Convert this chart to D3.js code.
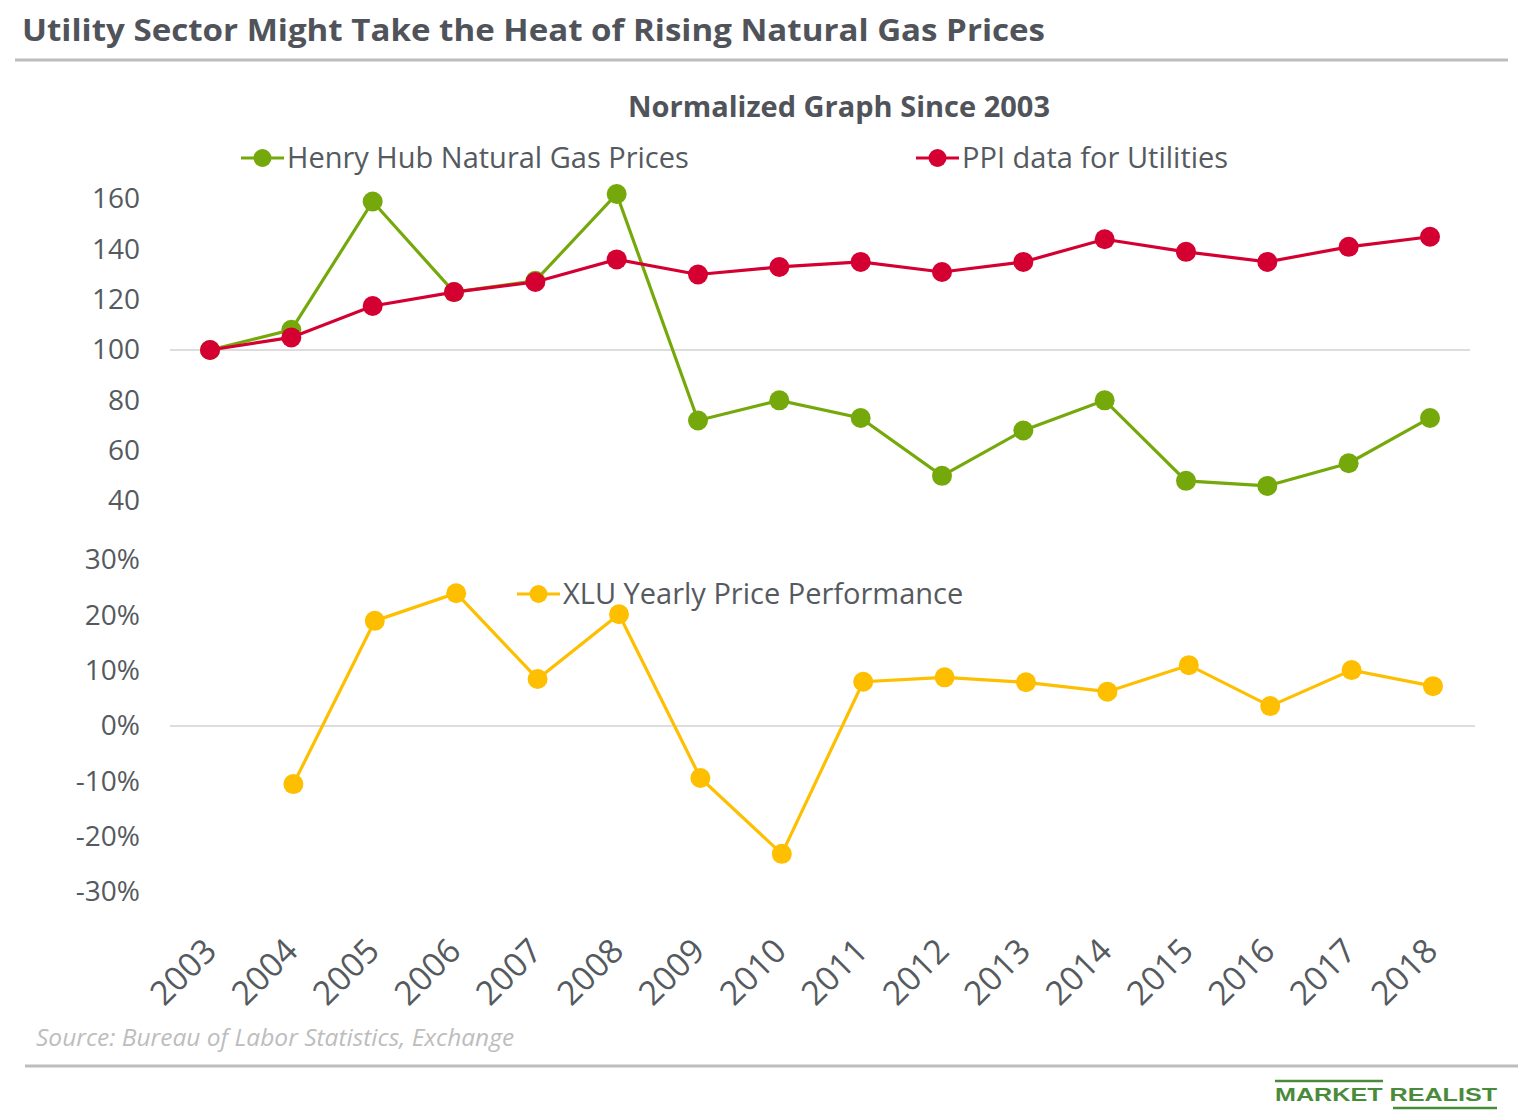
<!DOCTYPE html>
<html><head><meta charset="utf-8">
<script src="https://cdn.jsdelivr.net/npm/d3@7"></script>
<style>body{margin:0;background:#fff}svg{display:block;font-family:"Open Sans",sans-serif}</style>
</head><body><svg id="c" width="1518" height="1111"></svg>
<script>
const years = ["2003","2004","2005","2006","2007","2008","2009","2010","2011","2012","2013","2014","2015","2016","2017","2018"];
const henryHub = [100,108,159,123,127.5,162,72,80,73,50,68,80,48,46,55,73];
const ppiUtilities = [100,105,117.5,123,127,136,130,133,135,131,135,144,139,135,141,145];
const xluPerf = [null,-0.105,0.19,0.24,0.085,0.202,-0.094,-0.231,0.08,0.088,0.079,0.062,0.11,0.036,0.101,0.072];
const topTicks = [40,60,80,100,120,140,160];
const bottomTicks = [-0.3,-0.2,-0.1,0,0.1,0.2,0.3];

const svg = d3.select("#c");
const txt = "#555a60";
const green = "#75a90b", red = "#d50032", yellow = "#fdbf00";

// Title
svg.append("text").attr("x",22).attr("y",41).attr("font-size",30).attr("font-weight",700)
  .attr("fill","#50545a").attr("textLength",1023).attr("lengthAdjust","spacingAndGlyphs")
  .text("Utility Sector Might Take the Heat of Rising Natural Gas Prices");
svg.append("line").attr("x1",15).attr("x2",1508).attr("y1",60).attr("y2",60).attr("stroke","#bdbdbd").attr("stroke-width",3);

svg.append("text").attr("x",839).attr("y",117).attr("text-anchor","middle").attr("font-size",29).attr("font-weight",700)
  .attr("fill","#50545a").text("Normalized Graph Since 2003");

// Scales
const xTop = d3.scalePoint().domain(years).range([210,1430]);
const xBot = d3.scalePoint().domain(years).range([212,1433]);
const yTop = d3.scaleLinear().domain([40,160]).range([501,199]);
const yBot = d3.scaleLinear().domain([-0.3,0.3]).range([892,560]);

// Axes (labels only)
const axL1 = d3.axisLeft(yTop).tickValues(topTicks).tickSize(0).tickPadding(0);
const g1 = svg.append("g").attr("transform","translate(140,0)").call(axL1);
const axL2 = d3.axisLeft(yBot).tickValues(bottomTicks).tickSize(0).tickPadding(0);
const g2 = svg.append("g").attr("transform","translate(140,0)").call(axL2);
[g1,g2].forEach(g=>{g.attr("font-size",28).attr("font-family","Open Sans");g.select(".domain").remove();g.selectAll("text").attr("fill",txt);});
g2.selectAll("text").text(d=>Math.round(d*100)+"%");

// gridlines
svg.append("line").attr("x1",170).attr("x2",1470).attr("y1",yTop(100)).attr("y2",yTop(100)).attr("stroke","#bbb").attr("stroke-width",1.2);
svg.append("line").attr("x1",170).attr("x2",1475).attr("y1",yBot(0)).attr("y2",yBot(0)).attr("stroke","#bbb").attr("stroke-width",1.2);

// x axis
const axB = d3.axisBottom(xBot).tickSize(0).tickPadding(0);
const gx = svg.append("g").attr("transform","translate(0,930)").call(axB);
gx.attr("font-size",33.5).attr("font-family","Open Sans");
gx.select(".domain").remove();
gx.selectAll("text").attr("fill",txt).attr("y",0).attr("dy",0)
  .attr("text-anchor","end").attr("transform","translate(6,23) rotate(-45)");

function series(xs, ys, data, color){
  const pts = data.map((v,i)=>({y:years[i],v})).filter(d=>d.v!==null);
  svg.append("path").datum(pts).attr("fill","none").attr("stroke",color).attr("stroke-width",3.2)
    .attr("d",d3.line().x(d=>xs(d.y)).y(d=>ys(d.v)));
  svg.append("g").selectAll("circle").data(pts).join("circle")
    .attr("cx",d=>xs(d.y)).attr("cy",d=>ys(d.v)).attr("r",10).attr("fill",color);
}
series(xTop,yTop,henryHub,green);
series(xTop,yTop,ppiUtilities,red);
series(xBot,yBot,xluPerf,yellow);

// legends
function legend(x,y,color,label){
  svg.append("line").attr("x1",x).attr("x2",x+43).attr("y1",y).attr("y2",y).attr("stroke",color).attr("stroke-width",3.2);
  svg.append("circle").attr("cx",x+21.5).attr("cy",y).attr("r",9).attr("fill",color);
  svg.append("text").attr("x",x+46).attr("y",y+10).attr("font-size",29).attr("fill",txt).text(label);
}
legend(241,158,green,"Henry Hub Natural Gas Prices");
legend(916,158,red,"PPI data for Utilities");
legend(517,594,yellow,"XLU Yearly Price Performance");

// source
svg.append("text").attr("x",36).attr("y",1046).attr("font-size",24.5).attr("font-style","italic").attr("fill","#bdbdbd")
  .text("Source: Bureau of Labor Statistics, Exchange");
svg.append("line").attr("x1",25).attr("x2",1518).attr("y1",1066).attr("y2",1066).attr("stroke","#bdbdbd").attr("stroke-width",3);

// logo
const lg = "#4a8b3b";
svg.append("line").attr("x1",1275).attr("x2",1383).attr("y1",1081).attr("y2",1081).attr("stroke",lg).attr("stroke-width",2.5);
svg.append("text").attr("x",1275).attr("y",1101).attr("font-size",19).attr("font-weight",700).attr("fill",lg)
  .attr("font-family","Liberation Sans").attr("textLength",222).attr("lengthAdjust","spacingAndGlyphs").text("MARKET REALIST");
svg.append("line").attr("x1",1393).attr("x2",1497).attr("y1",1108).attr("y2",1108).attr("stroke",lg).attr("stroke-width",2.5);
</script></body></html>
